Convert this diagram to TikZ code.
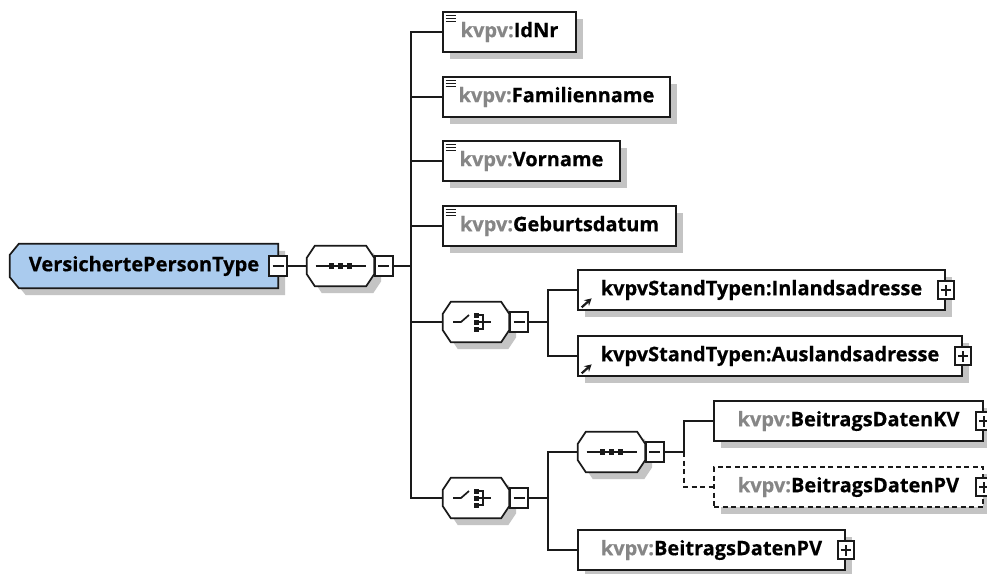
\documentclass[tikz,border=0pt]{standalone}
\usepackage{fontspec}
\setmainfont{Open Sans}[BoldFeatures={FakeBold=0.5}]
\usetikzlibrary{calc,shadows,arrows.meta,backgrounds}
\definecolor{rootblue}{HTML}{AACBEE}
\definecolor{shadowc}{HTML}{C4C4C4}
\definecolor{pre}{HTML}{868686}
\definecolor{edge}{HTML}{1A1A1A}

\newcommand{\octo}[1]{%
  \begin{scope}[on background layer]
  \fill[shadowc, transform canvas={shift={(7pt,-7pt)}}]
    ($(#1.north west)+(8,0)$) -- ($(#1.north east)+(-8,0)$) -- ($(#1.north east)+(0,12)$) --
    ($(#1.south east)+(0,-12)$) -- ($(#1.south east)+(-8,0)$) -- ($(#1.south west)+(8,0)$) --
    ($(#1.south west)+(0,-12)$) -- ($(#1.north west)+(0,12)$) -- cycle;
  \draw[edge, line width=1.7pt, fill=white]
    ($(#1.north west)+(8,0)$) -- ($(#1.north east)+(-8,0)$) -- ($(#1.north east)+(0,12)$) --
    ($(#1.south east)+(0,-12)$) -- ($(#1.south east)+(-8,0)$) -- ($(#1.south west)+(8,0)$) --
    ($(#1.south west)+(0,-12)$) -- ($(#1.north west)+(0,12)$) -- cycle;
  \end{scope}}
\newcommand{\seqicon}[1]{%
  \draw[edge, line width=1.7pt] ($(#1.center)+(-25,0)$) -- ($(#1.center)+(25,0)$);
  \foreach \dx in {-9,0,9}{\fill[edge] ($(#1.center)+(\dx-2.8,-2.8)$) rectangle ($(#1.center)+(\dx+2.8,2.8)$);}}
\newcommand{\choiceicon}[1]{%
  \draw[edge, line width=1.7pt] ($(#1.center)+(-23,0)$) -- ($(#1.center)+(-15,0)$) -- ($(#1.center)+(-7,-7)$);
  \foreach \dy in {-7,0,7}{\fill[edge] ($(#1.center)+(-2.5,\dy-2.5)$) rectangle ($(#1.center)+(2.5,\dy+2.5)$);}
  \draw[edge, line width=1.7pt] ($(#1.center)+(2.5,-7)$) -- ($(#1.center)+(7,-7)$) -- ($(#1.center)+(7,7)$) -- ($(#1.center)+(2.5,7)$);
  \draw[edge, line width=1.7pt] ($(#1.center)+(2.5,0)$) -- ($(#1.center)+(15,0)$);}
\newcommand{\elicon}[1]{%
  \foreach \dy in {4.5,7.5,10.5}{\draw[edge, line width=1.5pt] ($(#1.north west)+(3.5,\dy)$) -- ++(10,0);}}
\newcommand{\refarrow}[1]{%
  \draw[edge, line width=2.2pt, -{Stealth[length=7pt,width=7.5pt]}] ($(#1.south west)+(4.5,-3.5)$) -- ++(10,-9);}

\begin{document}
\begin{tikzpicture}[x=1pt, y=-1pt,
  txt/.style={font=\fontsize{20}{24}\selectfont\bfseries},
  elem/.style={txt, draw=edge, line width=1.7pt, fill=white, rectangle, minimum height=40pt, inner sep=0pt,
    drop shadow={shadow xshift=7pt, shadow yshift=-7pt, fill=shadowc, opacity=1}},
  optelem/.style={elem, dashed, dash pattern=on 5pt off 3.5pt},
  comp/.style={rectangle, draw=none, minimum width=66pt, minimum height=40pt, inner sep=0pt},
  mbox/.style={draw=edge, fill=white, line width=1.7pt, minimum width=18pt, minimum height=20pt, inner sep=0pt,
    path picture={\draw[edge, line width=1.6pt] ([xshift=-5.5pt]path picture bounding box.center) -- ([xshift=5.5pt]path picture bounding box.center);}},
  pbox/.style={draw=edge, fill=white, line width=1.7pt, minimum width=16pt, minimum height=18pt, inner sep=0pt,
    path picture={\draw[edge, line width=1.6pt] ([xshift=-5pt]path picture bounding box.center) -- ([xshift=5pt]path picture bounding box.center);
      \draw[edge, line width=1.6pt] ([yshift=-5.5pt]path picture bounding box.center) -- ([yshift=5.5pt]path picture bounding box.center);}},
  conn/.style={edge, line width=1.7pt},
  dconn/.style={conn, dashed, dash pattern=on 5pt off 3.5pt}
]
\useasboundingbox (0,0) rectangle (987,573);
\begin{scope}[on background layer]
  \fill[white] (0,0) rectangle (987,573);
\end{scope}

% root
\node[txt, rectangle, minimum width=268pt, minimum height=44pt, inner sep=0pt] (root) at (144,266) {VersichertePersonType\hspace{6pt}};
\begin{scope}[on background layer]
  \fill[shadowc, transform canvas={shift={(7pt,-7pt)}}]
    ($(root.north west)+(9,0)$) -- (root.north east) -- (root.south east) -- ($(root.south west)+(9,0)$) --
    ($(root.south west)+(0,-11)$) -- ($(root.north west)+(0,11)$) -- cycle;
  \draw[edge, line width=1.7pt, fill=rootblue]
    ($(root.north west)+(9,0)$) -- (root.north east) -- (root.south east) -- ($(root.south west)+(9,0)$) --
    ($(root.south west)+(0,-11)$) -- ($(root.north west)+(0,11)$) -- cycle;
\end{scope}
\node[mbox] (rootm) at (root.east) {};

% sequence 1
\node[comp, minimum width=67pt] (seq1) at (340.5,266) {};
\octo{seq1}
\seqicon{seq1}
\node[mbox] (seq1m) at ($(seq1.east)+(9.5,0)$) {};
\coordinate (trunk) at (411,266);

% elements
\node[elem, minimum width=133pt] (idnr) at (509.5,32) {\textcolor{pre}{kvpv:}IdNr};
\elicon{idnr}
\node[elem, minimum width=227pt] (fam) at (556.5,97) {\textcolor{pre}{kvpv:}Familienname};
\elicon{fam}
\node[elem, minimum width=177pt] (vor) at (531.5,161) {\textcolor{pre}{kvpv:}Vorname};
\elicon{vor}
\node[elem, minimum width=233pt] (geb) at (559.5,226) {\textcolor{pre}{kvpv:}Geburtsdatum};
\elicon{geb}

% choice 1
\node[comp] (ch1) at (476,322) {};
\octo{ch1}
\choiceicon{ch1}
\node[mbox] (ch1m) at ($(ch1.east)+(10,0)$) {};
\coordinate (c1v) at (548,322);
\node[elem, minimum width=367pt] (inl) at (761.5,290) {kvpvStandTypen:Inlandsadresse\hspace{8pt}};
\refarrow{inl}
\node[pbox] (inlp) at (inl.east) {};
\node[elem, minimum width=384pt] (aus) at (770,356) {kvpvStandTypen:Auslandsadresse\hspace{8pt}};
\refarrow{aus}
\node[pbox] (ausp) at (aus.east) {};

% choice 2
\node[comp] (ch2) at (476,498) {};
\octo{ch2}
\choiceicon{ch2}
\node[mbox] (ch2m) at ($(ch2.east)+(10,0)$) {};
\coordinate (c2v) at (548,498);

% sequence 2
\node[comp, minimum width=67pt] (seq2) at (611.5,452) {};
\octo{seq2}
\seqicon{seq2}
\node[mbox] (seq2m) at ($(seq2.east)+(9.5,0)$) {};
\coordinate (s2v) at (684,452);

\node[elem, minimum width=269pt] (kv) at (848.5,421) {\textcolor{pre}{kvpv:}BeitragsDatenKV\hspace{4pt}};
\node[pbox] (kvp) at (kv.east) {};
\node[optelem, minimum width=269pt] (pvd) at (848.5,487) {\textcolor{pre}{kvpv:}BeitragsDatenPV\hspace{4pt}};
\node[pbox] (pvdp) at (pvd.east) {};
\node[elem, minimum width=267pt] (pv2) at (711.5,550) {\textcolor{pre}{kvpv:}BeitragsDatenPV\hspace{8pt}};
\node[pbox] (pv2p) at (pv2.east) {};

% connectors
\draw[conn] (rootm.east) -- (seq1.west);
\draw[conn] (seq1m.east) -- (trunk);
\draw[conn] (trunk) |- (idnr.west);
\draw[conn] (trunk) |- (fam.west);
\draw[conn] (trunk) |- (vor.west);
\draw[conn] (trunk) |- (geb.west);
\draw[conn] (trunk) |- (ch1.west);
\draw[conn] (trunk) |- (ch2.west);
\draw[conn] (ch1m.east) -- (c1v);
\draw[conn] (c1v) |- (inl.west);
\draw[conn] (c1v) |- (aus.west);
\draw[conn] (ch2m.east) -- (c2v);
\draw[conn] (c2v) |- (seq2.west);
\draw[conn] (c2v) |- (pv2.west);
\draw[conn] (seq2m.east) -- (s2v);
\draw[conn] (s2v) |- (kv.west);
\draw[dconn] (s2v) |- (pvd.west);
\end{tikzpicture}
\end{document}
